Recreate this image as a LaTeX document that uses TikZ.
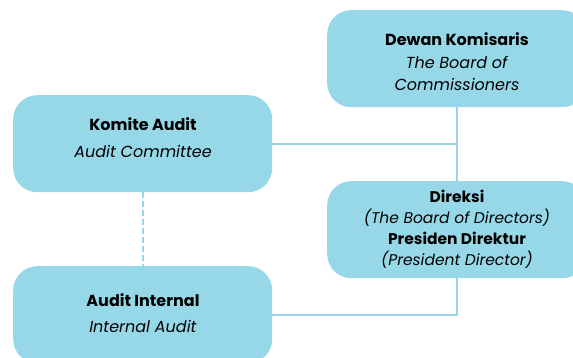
\documentclass[tikz,border=0pt]{standalone}
\usepackage{fontspec}
\setmainfont{Poppins}
\definecolor{boxblue}{HTML}{97D8E8}
\definecolor{lineblue}{HTML}{96D6E7}
\begin{document}
\begin{tikzpicture}[x=1pt,y=-1pt,
 box/.style={fill=boxblue, rounded corners=24pt, minimum width=259pt, minimum height=97pt, inner sep=0pt, anchor=north west},
 txt/.style={align=center, font=\fontsize{16}{22.5}\selectfont, text=black, inner sep=0pt},
 conn/.style={draw=lineblue, line width=1.8pt}]
\useasboundingbox (0,0) rectangle (573,358);
\clip (0,0) rectangle (573,358);
\node[box] (dewan) at (327,10) {};
\node[box] (komite) at (13,95) {};
\node[box] (direksi) at (327,181) {};
\node[box] (internal) at (13,266) {};
\draw[conn] (dewan.south) -- (direksi.north);
\draw[conn] (komite.east) -- (komite.east -| dewan.south);
\draw[conn, dashed, dash pattern=on 6pt off 3pt] (komite.south) -- (internal.north);
\draw[conn] (direksi.south) |- (internal.east);
\node[txt] (tdewan) at (457,62) {\textbf{Dewan Komisaris}\\\textit{The Board of}\\\textit{Commissioners}};
\node[txt, font=\fontsize{16}{27}\selectfont] (tkomite) at (143,138) {\textbf{Komite Audit}\\\textit{Audit Committee}};
\node[txt, font=\fontsize{15.5}{21}\selectfont] (tdireksi) at (457,229) {\textbf{Direksi}\\\textit{(The Board of Directors)}\\\textbf{Presiden Direktur}\\\textit{(President Director)}};
\node[txt, font=\fontsize{16}{26}\selectfont] (tinternal) at (143,313) {\textbf{Audit Internal}\\\textit{Internal Audit}};
\end{tikzpicture}
\end{document}
